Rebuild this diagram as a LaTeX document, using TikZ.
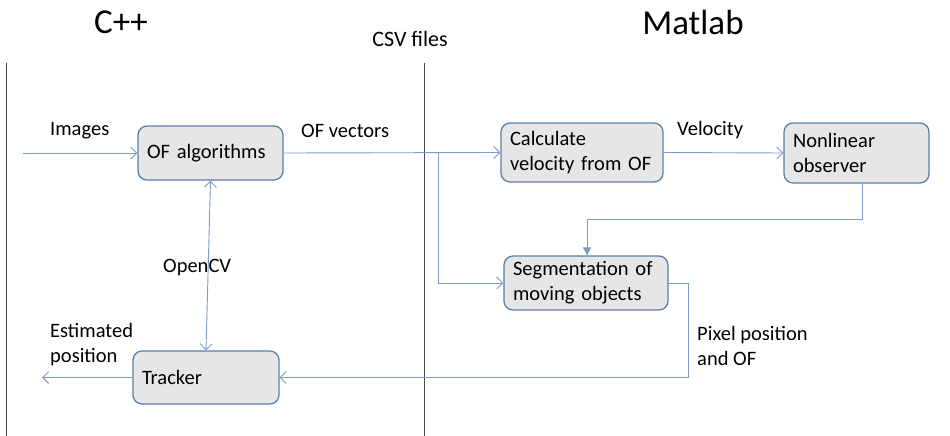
\documentclass[tikz,border=0pt]{standalone}
\usepackage{fontspec}
\setmainfont{Carlito}
\usetikzlibrary{arrows.meta}
\definecolor{boxfill}{HTML}{E6E6E6}
\definecolor{boxedge}{HTML}{5A7FA6}
\definecolor{conn}{HTML}{7A9CC6}
\definecolor{divider}{HTML}{4A4A4A}
\tikzset{
  procbox/.style={draw=boxedge, line width=1.3pt, fill=boxfill, rounded corners=9pt,
    align=left, inner xsep=9pt, inner ysep=0pt, font=\fontsize{20.5}{25}\selectfont},
  lbl/.style={inner sep=0pt, align=left, font=\fontsize{20.5}{25}\selectfont},
  conline/.style={draw=conn, line width=0.9pt},
  openarrow/.style={conline, -{Straight Barb[length=6pt,width=12pt,line width=0.9pt]}},
  twoarrow/.style={conline, {Straight Barb[length=6pt,width=12pt,line width=0.9pt]}-{Straight Barb[length=6pt,width=12pt,line width=0.9pt]}},
  fillarrow/.style={conline, -{Triangle[length=8pt,width=8pt]}},
  divline/.style={draw=divider, line width=1pt},
  heading/.style={inner sep=0pt, font=\fontsize{35}{40}\selectfont}
}
\begin{document}
\begin{tikzpicture}[x=1pt,y=-1pt]
\useasboundingbox (0,0) rectangle (950,436);
% headings
\node[heading] (cpp) at (121,22) {C++};
\node[heading] (matlab) at (693,22) {Matlab};
\node[inner sep=0pt, font=\fontsize{22}{26}\selectfont] (csv) at (410,39) {CSV files};
% dividers
\coordinate (dl1) at (6,63);
\coordinate (dl2) at (6,436);
\coordinate (dm1) at (424,63);
\coordinate (dm2) at (424,436);
\draw[divline] (dl1) -- (dl2);
\draw[divline] (dm1) -- (dm2);
% boxes
\node[procbox, minimum width=145pt, minimum height=54pt, text width=127pt] (ofa) at (210.5,153) {\mbox{OF algorithms}};
\node[procbox, minimum width=162pt, minimum height=59pt, text width=144pt] (calc) at (582,152.5) {\mbox{Calculate}\\\mbox{velocity from OF}};
\node[procbox, minimum width=145pt, minimum height=60pt, text width=127pt] (nlo) at (856.5,153) {\mbox{Nonlinear}\\\mbox{observer}};
\node[procbox, minimum width=164pt, minimum height=54pt, text width=146pt] (seg) at (586,283) {\mbox{Segmentation of}\\\mbox{moving objects}};
\node[procbox, minimum width=146pt, minimum height=53pt, text width=128pt] (trk) at (206,377.5) {\mbox{Tracker}};
% labels
\node[lbl, anchor=west] (limg) at (50,131) {Images};
\node[lbl, anchor=west] (lofv) at (301,131) {OF vectors};
\node[lbl, anchor=west] (lvel) at (677,130) {Velocity};
\node[lbl, anchor=west] (lcv) at (163,267) {OpenCV};
\node[lbl, anchor=west] (lest) at (50,345) {Estimated\\position};
\node[lbl, anchor=west] (lpix) at (697,346) {Pixel position\\and OF};
% connectors
\coordinate (imgin) at (23,153);
\coordinate (estout) at (42,377.5);
\coordinate (branch) at (438,153);
\coordinate (fb1) at (862,219);
\coordinate (fb2) at (587,219);
\coordinate (so1) at (688,283);
\coordinate (so2) at (688,377.5);
\draw[openarrow] (imgin) -- (ofa.west);
\draw[openarrow] (ofa.east) -- (calc.west);
\draw[openarrow] (calc.east) -- (nlo.west);
\draw[openarrow] (branch) |- (seg.west);
\draw[fillarrow] (nlo.south -| fb1) -- (fb1) -- (fb2) -- (fb2 |- seg.north);
\draw[conline] (seg.east) -- (so1);
\draw[openarrow] (so1) -- (so2) -- (trk.east);
\draw[openarrow] (trk.west) -- (estout);
\draw[twoarrow] (ofa.south) -- (trk.north);
\end{tikzpicture}
\end{document}
